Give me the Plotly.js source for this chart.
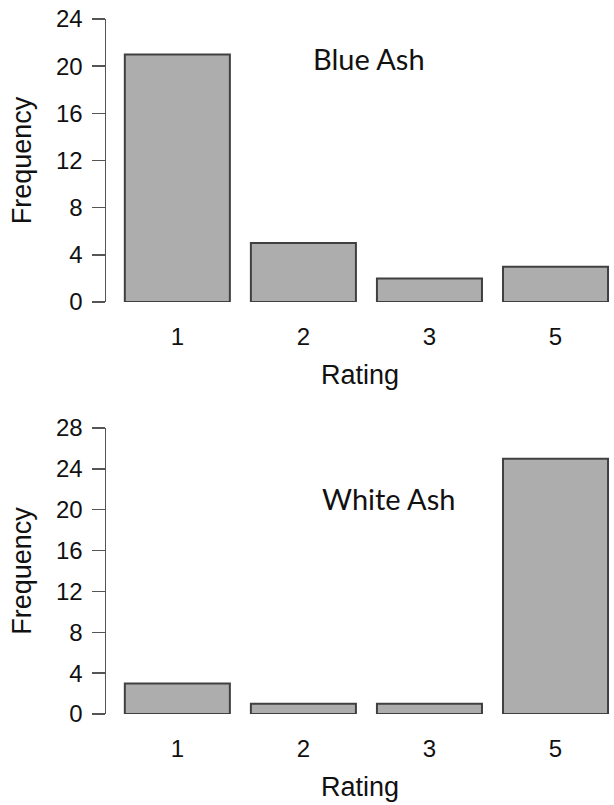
<!DOCTYPE html>
<html><head><meta charset="utf-8">
<script src="https://cdn.plot.ly/plotly-3.0.1.min.js"></script>
<style>html,body{margin:0;padding:0;background:#fff}#chart{width:614px;height:805px}</style>
</head><body><div id="chart"></div>
<script>
const ratings = ["1", "2", "3", "5"];
const blueAshFreq = [21, 5, 2, 3];
const whiteAshFreq = [3, 1, 1, 25];
const blueTicks = [0, 4, 8, 12, 16, 20, 24];
const whiteTicks = [0, 4, 8, 12, 16, 20, 24, 28];

const barStyle = {color: '#adadad', line: {color: '#404040', width: 2}};
const traces = [
  {type: 'bar', x: ratings, y: blueAshFreq, marker: barStyle, xaxis: 'x', yaxis: 'y', hoverinfo: 'none'},
  {type: 'bar', x: ratings, y: whiteAshFreq, marker: barStyle, xaxis: 'x2', yaxis: 'y2', hoverinfo: 'none'}
];
const fam = 'Liberation Sans, Arial, sans-serif';
const font = {family: fam, size: 24, color: '#111'};
function xax(anchor) {
  return {anchor: anchor, type: 'category', range: [-0.566, 3.464], showline: false, showgrid: false,
    zeroline: false, ticks: 'outside', ticklen: 13, tickcolor: 'rgba(0,0,0,0)', tickfont: font,
    title: {text: 'Rating', font: {family: fam, size: 27, color: '#111'}, standoff: 16}};
}
function yax(anchor, dom, maxv, tv) {
  return {anchor: anchor, domain: dom, range: [0, maxv], tickvals: tv, showline: true, linecolor: '#555',
    linewidth: 1.5, ticks: 'outside', ticklen: 13, tickcolor: '#555', tickwidth: 1.5, showgrid: false,
    zeroline: false, tickfont: font, ticklabelstandoff: 4,
    title: {text: 'Frequency', font: {family: fam, size: 27, color: '#111'}, standoff: 16}};
}
const annFont = {family: 'Lato, Open Sans, sans-serif', size: 29, color: '#111'};
const layout = {
  width: 614, height: 805, showlegend: false, bargap: 0.1667,
  margin: {l: 106, r: 0, t: 0, b: 0}, paper_bgcolor: '#fff', plot_bgcolor: '#fff',
  xaxis: xax('y'), yaxis: yax('x', [0.6248, 0.9764], 24, blueTicks),
  xaxis2: xax('y2'), yaxis2: yax('x2', [0.1130, 0.4683], 28, whiteTicks),
  annotations: [
    {text: 'Blue Ash', xref: 'x domain', yref: 'y domain', x: 0.518, y: 0.86, xanchor: 'center', yanchor: 'middle',
     showarrow: false, font: annFont},
    {text: 'White Ash', xref: 'x2 domain', yref: 'y2 domain', x: 0.557, y: 0.755, xanchor: 'center', yanchor: 'middle',
     showarrow: false, font: annFont}
  ]
};
Plotly.newPlot('chart', traces, layout, {staticPlot: true});
</script></body></html>
